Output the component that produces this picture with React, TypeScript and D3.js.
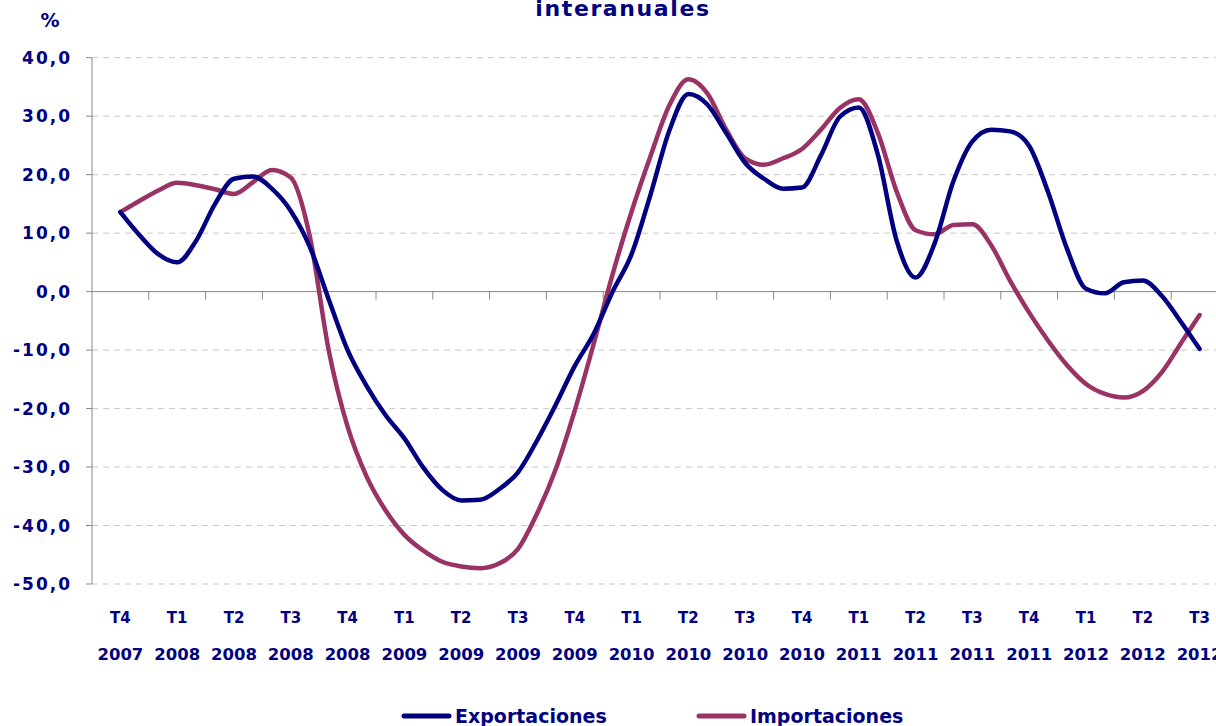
import React from "react";
import * as d3 from "d3";

const quarters = ["T4", "T1", "T2", "T3", "T4", "T1", "T2", "T3", "T4", "T1", "T2", "T3", "T4", "T1", "T2", "T3", "T4", "T1", "T2", "T3"];
const years = ["2007", "2008", "2008", "2008", "2008", "2009", "2009", "2009", "2009", "2010", "2010", "2010", "2010", "2011", "2011", "2011", "2011", "2012", "2012", "2012"];

// monthly readings, from T4 2007 to T3 2012
const exportaciones = [
  13.6, 9.7, 6.4, 5.0, 8.7, 15.0, 19.3, 19.7, 17.6, 13.8,
  7.7, -1.3, -10.0, -16.1, -21.1, -25.1, -30.1, -33.9, -35.7, -35.6,
  -33.8, -30.9, -25.5, -19.3, -12.7, -7.2, 0.0, 6.4, 16.6, 27.6,
  33.8, 32.0, 27.1, 22.0, 19.3, 17.6, 17.8, 23.3, 29.9, 31.5,
  23.5, 8.7, 2.4, 8.2, 18.9, 25.7, 27.7, 27.4, 24.9, 17.0,
  7.3, 0.5, -0.3, 1.6, 1.9, -0.7, -5.1, -9.8,
];
const importaciones = [
  13.6, 15.5, 17.3, 18.6, 18.2, 17.5, 16.7, 18.7, 20.8, 19.5,
  9.5, -10.0, -23.1, -31.6, -37.4, -41.6, -44.3, -46.2, -47.0, -47.3,
  -46.5, -44.0, -38.0, -30.3, -20.3, -8.9, 3.0, 13.7, 23.2, 31.9,
  36.3, 33.9, 27.7, 22.8, 21.7, 22.8, 24.4, 27.7, 31.4, 32.9,
  27.2, 17.1, 10.5, 9.8, 11.4, 11.5, 7.9, 1.8, -3.6, -8.4,
  -12.6, -15.8, -17.5, -18.1, -17.0, -13.8, -8.9, -4.0,
];
const yTicks = [40, 30, 20, 10, 0, -10, -20, -30, -40, -50];

const W = 1216;
const H = 726;
const navy = "#000080";
const plum = "#993366";
const font = "'DejaVu Sans', Verdana, sans-serif";

export default function App() {
  const left = 92;
  const step = 56.8;
  const x = d3
    .scaleBand()
    .domain(quarters.map((_, i) => String(i)))
    .range([left, left + step * quarters.length])
    .padding(0);
  const bw = x.bandwidth();
  const xm = d3
    .scaleLinear()
    .domain([0, exportaciones.length - 1])
    .range([x("0")! + bw / 2, x(String(quarters.length - 1))! + bw / 2]);
  const y = d3.scaleLinear().domain([-50, 40]).range([584, 57.7]);

  const line = d3
    .line<number>()
    .x((_, i) => xm(i))
    .y((d) => y(d))
    .curve(d3.curveMonotoneX);

  const fmt = (v: number) => v.toFixed(1).replace(".", ",");

  return (
    <svg
      width={W}
      height={H}
      style={{ position: "absolute", left: 0, top: 0, background: "#fff" }}
    >
      {/* title, cut at the top */}
      <text x={623} y={16} textAnchor="middle" fontFamily={font} fontWeight="bold" fontSize={22} letterSpacing={1.6} fill={navy}>
        interanuales
      </text>
      <text x={50} y={27} textAnchor="middle" fontFamily={font} fontWeight="bold" fontSize={19} fill={navy}>
        %
      </text>

      {/* gridlines */}
      {yTicks.filter((t) => t !== 0).map((t) => (
        <line key={t} x1={left} x2={W} y1={y(t)} y2={y(t)} stroke="#c8c8c8" strokeWidth={1} strokeDasharray="6,5" />
      ))}

      {/* y axis */}
      <line x1={left} x2={left} y1={y(40)} y2={y(-50)} stroke="#888" strokeWidth={1} />
      {yTicks.map((t) => (
        <g key={t}>
          <line x1={left - 6} x2={left} y1={y(t)} y2={y(t)} stroke="#888" strokeWidth={1} />
          <text x={72} y={y(t) + 6} textAnchor="end" fontFamily={font} fontWeight="bold" fontSize={17} letterSpacing={2} fill={navy}>
            {fmt(t)}
          </text>
        </g>
      ))}

      {/* x axis at zero */}
      <line x1={left} x2={W} y1={y(0)} y2={y(0)} stroke="#888" strokeWidth={1} />
      {quarters.map((_, i) => (
        <line key={i} x1={x(String(i))! + bw} x2={x(String(i))! + bw} y1={y(0)} y2={y(0) + 8} stroke="#888" strokeWidth={1} />
      ))}
      {quarters.map((q, i) => (
        <g key={i}>
          <text x={x(String(i))! + bw / 2} y={623} textAnchor="middle" fontFamily={font} fontWeight="bold" fontSize={15} fill={navy}>
            {q}
          </text>
          <text x={x(String(i))! + bw / 2} y={660} textAnchor="middle" fontFamily={font} fontWeight="bold" fontSize={16.5} fill={navy}>
            {years[i]}
          </text>
        </g>
      ))}

      {/* series */}
      <path d={line(importaciones) ?? ""} fill="none" stroke={plum} strokeWidth={4.5} strokeLinejoin="round" strokeLinecap="round" />
      <path d={line(exportaciones) ?? ""} fill="none" stroke={navy} strokeWidth={4.5} strokeLinejoin="round" strokeLinecap="round" />

      {/* legend */}
      <line x1={404} x2={449} y1={716} y2={716} stroke={navy} strokeWidth={5} strokeLinecap="round" />
      <text x={455} y={723} fontFamily={font} fontWeight="bold" fontSize={19} fill={navy}>
        Exportaciones
      </text>
      <line x1={699} x2={744} y1={716} y2={716} stroke={plum} strokeWidth={5} strokeLinecap="round" />
      <text x={750} y={723} fontFamily={font} fontWeight="bold" fontSize={19} fill={navy}>
        Importaciones
      </text>
    </svg>
  );
}
